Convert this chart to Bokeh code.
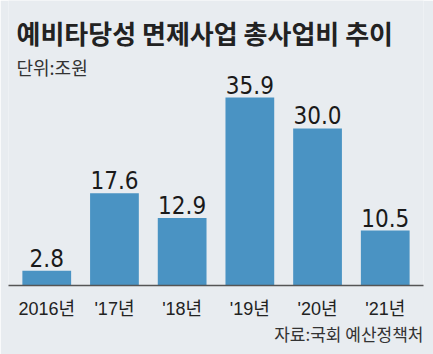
from bokeh.plotting import figure
from bokeh.models import FactorRange, Range1d, Label, ColumnDataSource, Title
from bokeh.core.properties import value
from bokeh.embed import file_html
from bokeh.resources import INLINE

categories = ["2016년", "'17년", "'18년", "'19년", "'20년", "'21년"]
values = [2.8, 17.6, 12.9, 35.9, 30.0, 10.5]
value_labels = ["2.8", "17.6", "12.9", "35.9", "30.0", "10.5"]
title_text = "예비타당성 면제사업 총사업비 추이"
unit_text = "단위:조원"
source_text = "자료:국회 예산정책처"

BG = "#e8ecf0"
BAR = "#4a93c3"
NUM_FONT = "'DejaVu Sans Condensed', 'Noto Sans CJK KR', sans-serif"
TICK_FONT = "'Liberation Sans', 'Noto Sans CJK KR', sans-serif"
KR_FONT = "'Noto Sans CJK KR', sans-serif"

src = ColumnDataSource(dict(cat=categories, val=values, lab=value_labels))

p = figure(width=433, height=354,
           x_range=FactorRange(*categories, range_padding=0.0217),
           y_range=Range1d(0, 54.44), y_axis_location=None,
           min_border_left=8, min_border_right=10, min_border_top=0, min_border_bottom=69,
           output_backend="svg", toolbar_location=None)
p.background_fill_color = BG
p.border_fill_color = BG
p.outline_line_color = None
p.grid.visible = False

p.vbar(x="cat", top="val", width=0.72, source=src, fill_color=BAR, line_color=None)
p.text(x="cat", y="val", text="lab", source=src, text_align="center", text_baseline="bottom",
       y_offset=-4, text_font=value(NUM_FONT), text_font_size="24px", text_color="#1a1a1a")

ax = p.xaxis[0]
ax.axis_line_color = "#555555"
ax.axis_line_width = 1.5
ax.major_tick_line_color = None
ax.minor_tick_line_color = None
ax.major_label_text_font = TICK_FONT
ax.major_label_text_font_size = "18px"
ax.major_label_text_color = "#222222"
ax.major_label_standoff = 7

p.add_layout(Label(x=8, y=253, x_units="screen", y_units="screen", text=title_text,
                   text_font=KR_FONT, text_font_style="bold", text_font_size="26px",
                   text_color="#222222", text_baseline="middle"))
p.add_layout(Label(x=8, y=219, x_units="screen", y_units="screen", text=unit_text,
                   text_font=KR_FONT, text_font_size="18px",
                   text_color="#333333", text_baseline="middle"))
p.add_layout(Title(text=source_text, align="right", text_font=KR_FONT,
                   text_font_size="17px", text_font_style="normal",
                   text_color="#333333", offset=0, standoff=-6), "below")

open("out.html", "w").write(file_html(p, INLINE))
